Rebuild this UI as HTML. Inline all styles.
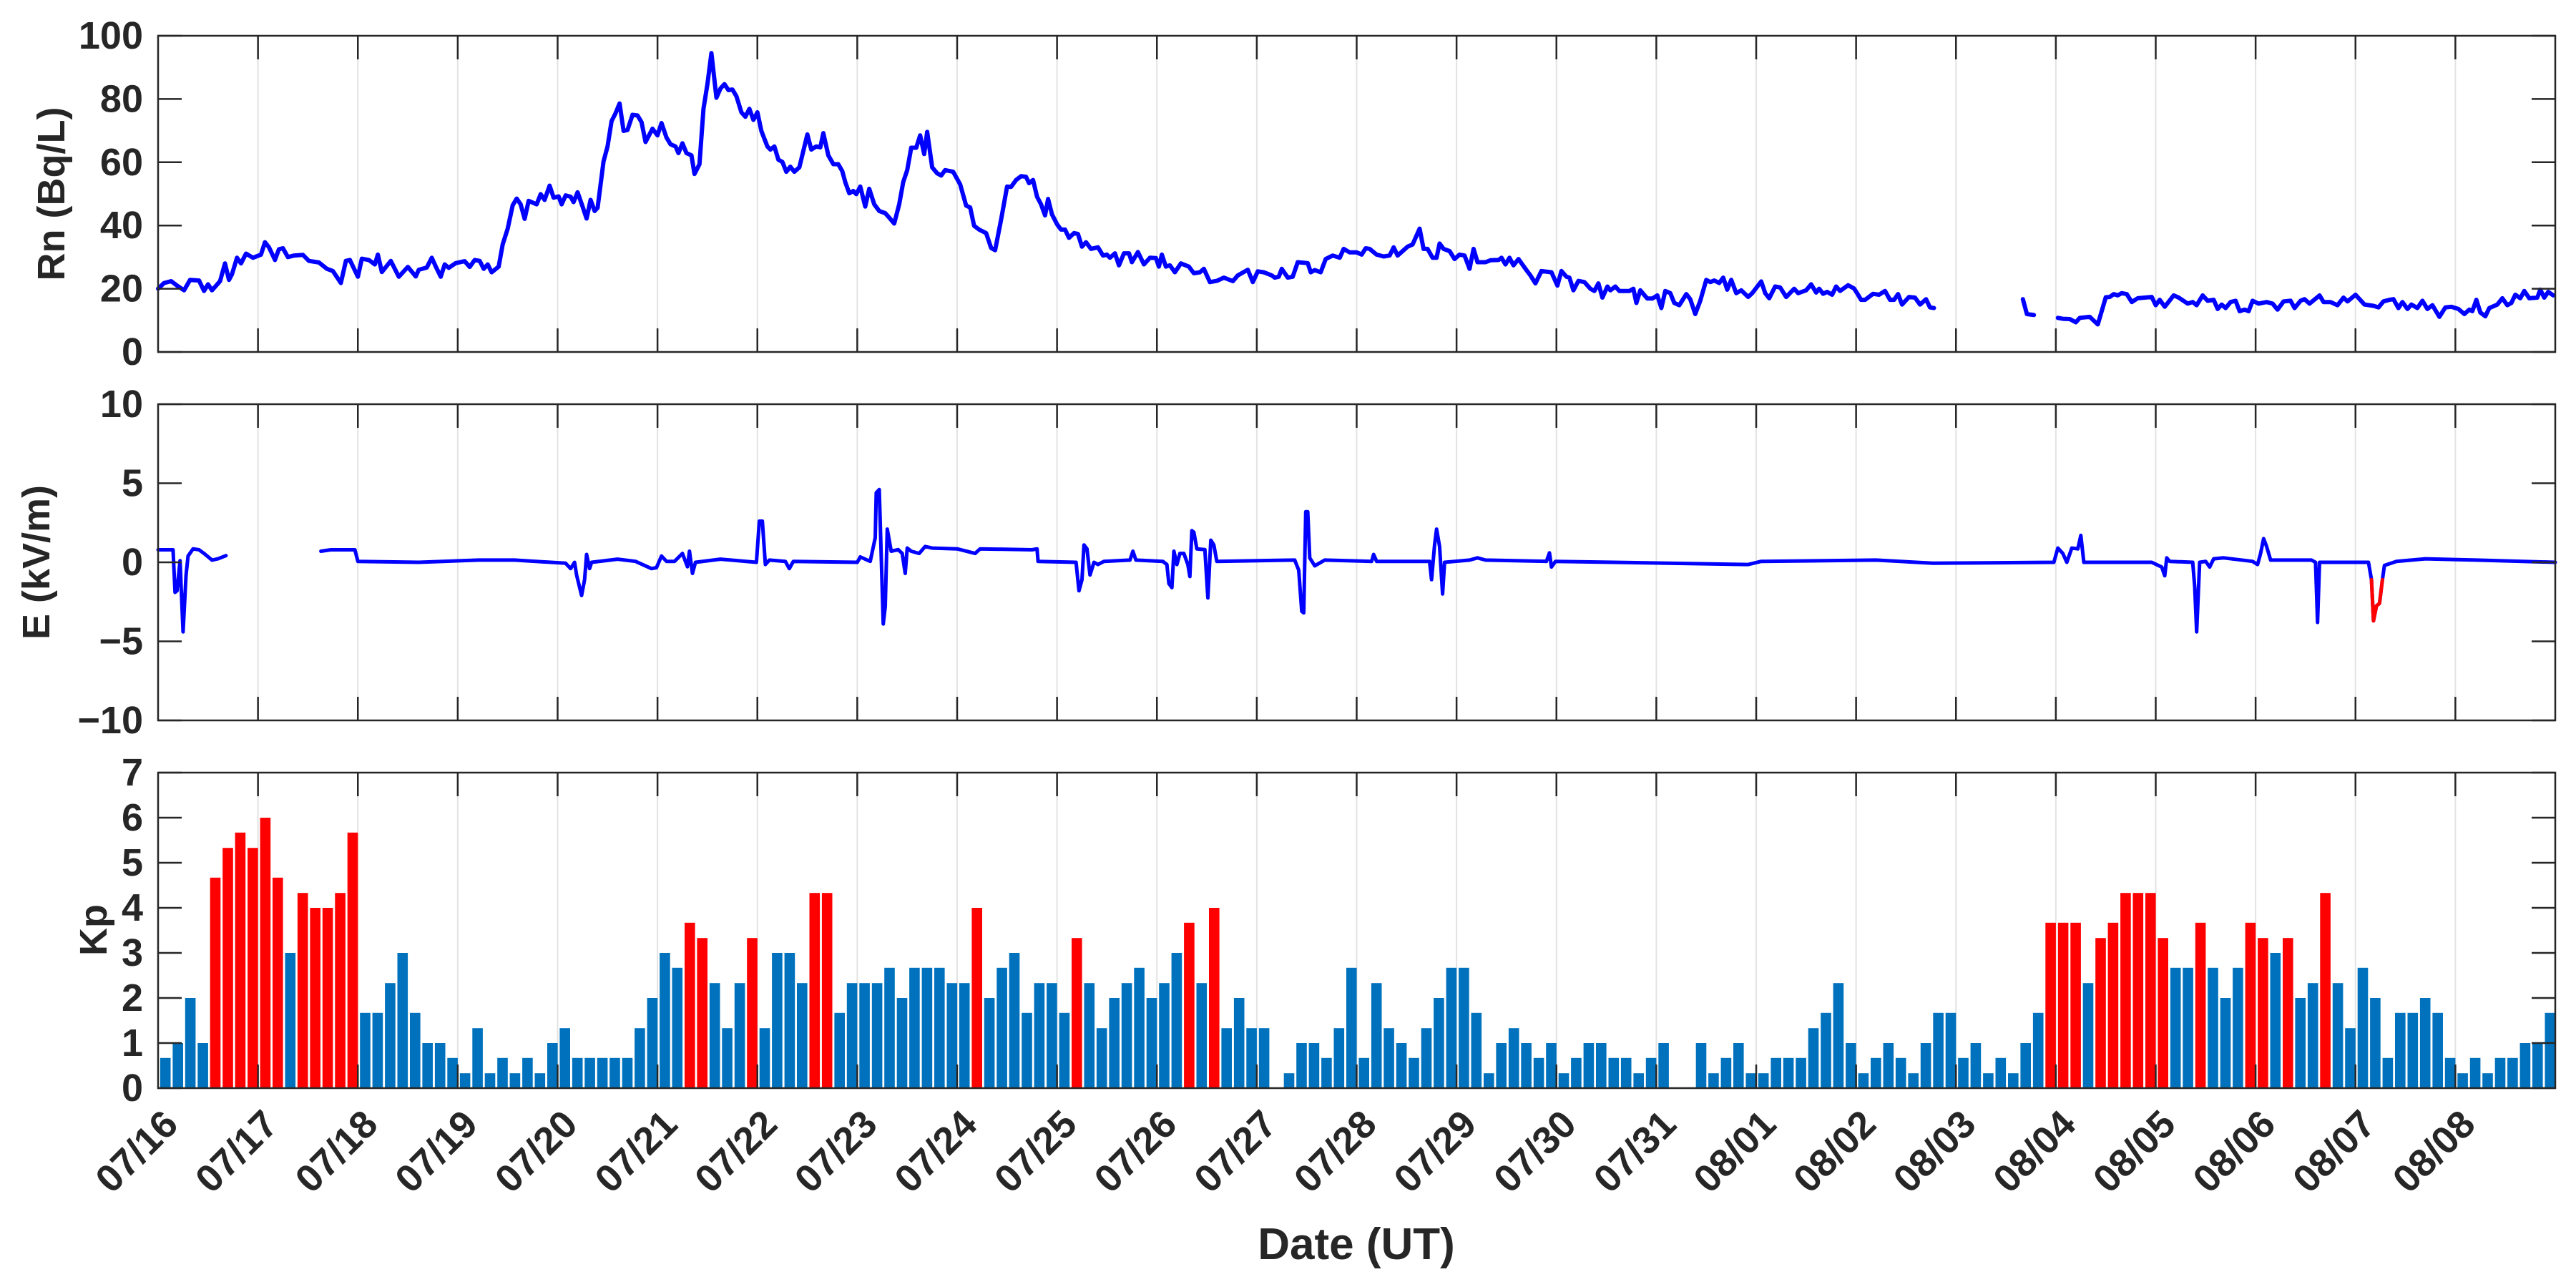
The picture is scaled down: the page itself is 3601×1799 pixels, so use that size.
<!DOCTYPE html>
<html><head><meta charset="utf-8"><style>
html,body{margin:0;padding:0;background:#fff;}
svg{display:block;font-family:"Liberation Sans",Arial,sans-serif;font-weight:bold;}
</style></head><body>
<svg id="chart" width="3601" height="1799" viewBox="0 0 3601 1799" xmlns="http://www.w3.org/2000/svg">
<rect x="0" y="0" width="3601" height="1799" fill="#fff"/>
<g id="grid"></g>
<g id="rnPanel"></g>
<g id="ePanel"></g>
<g id="kpPanel"></g>
<g id="axes"></g>
<text x="72" y="271" transform="rotate(-90 72 271)" text-anchor="middle" dominant-baseline="central" font-size="54" fill="#262626">Rn (Bq/L)</text>
<text x="51" y="786" transform="rotate(-90 51 786)" text-anchor="middle" dominant-baseline="central" font-size="54" fill="#262626">E (kV/m)</text>
<text x="131" y="1300" transform="rotate(-90 131 1300)" text-anchor="middle" dominant-baseline="central" font-size="54" fill="#262626">Kp</text>
<text x="1896" y="1760" text-anchor="middle" font-size="62" fill="#262626">Date (UT)</text>
</svg>
<script>
const dayLabels = ["07/16","07/17","07/18","07/19","07/20","07/21","07/22","07/23","07/24","07/25","07/26","07/27","07/28","07/29","07/30","07/31","08/01","08/02","08/03","08/04","08/05","08/06","08/07","08/08"];
const rnTicks = [0,20,40,60,80,100];
const eTicks = [-10,-5,0,5,10];
const kpTicks = [0,1,2,3,4,5,6,7];
const kpValues = [
0.67,1,2,1,4.67,5.33,5.67,5.33,
6,4.67,3,4.33,4,4,4.33,5.67,
1.67,1.67,2.33,3,1.67,1,1,0.67,
0.33,1.33,0.33,0.67,0.33,0.67,0.33,1,
1.33,0.67,0.67,0.67,0.67,0.67,1.33,2,
3,2.67,3.67,3.33,2.33,1.33,2.33,3.33,
1.33,3,3,2.33,4.33,4.33,1.67,2.33,
2.33,2.33,2.67,2,2.67,2.67,2.67,2.33,
2.33,4,2,2.67,3,1.67,2.33,2.33,
1.67,3.33,2.33,1.33,2,2.33,2.67,2,
2.33,3,3.67,2.33,4,1.33,2,1.33,
1.33,0,0.33,1,1,0.67,1.33,2.67,
0.67,2.33,1.33,1,0.67,1.33,2,2.67,
2.67,1.67,0.33,1,1.33,1,0.67,1,
0.33,0.67,1,1,0.67,0.67,0.33,0.67,
1,0,0,1,0.33,0.67,1,0.33,
0.33,0.67,0.67,0.67,1.33,1.67,2.33,1,
0.33,0.67,1,0.67,0.33,1,1.67,1.67,
0.67,1,0.33,0.67,0.33,1,1.67,3.67,
3.67,3.67,2.33,3.33,3.67,4.33,4.33,4.33,
3.33,2.67,2.67,3.67,2.67,2,2.67,3.67,
3.33,3,3.33,2,2.33,4.33,2.33,1.33,
2.67,2,0.67,1.67,1.67,2,1.67,0.67,
0.33,0.67,0.33,0.67,0.67,1,1,1.67];
const kpAlertThreshold = 3.2;
const rnDay = [0,0.06,0.13,0.19,0.26,0.32,0.41,0.46,0.50,0.54,0.62,0.67,0.71,0.74,0.79,0.83,0.88,0.95,1.03,1.07,1.11,1.17,1.21,1.25,1.30,1.36,1.45,1.51,1.61,1.69,1.75,1.83,1.88,1.92,2.00,2.04,2.11,2.17,2.20,2.24,2.33,2.41,2.50,2.58,2.61,2.69,2.74,2.78,2.83,2.87,2.91,2.98,3.07,3.12,3.17,3.22,3.26,3.30,3.34,3.41,3.45,3.50,3.55,3.59,3.63,3.67,3.71,3.79,3.83,3.87,3.92,3.96,4.01,4.04,4.08,4.13,4.16,4.20,4.25,4.29,4.33,4.37,4.40,4.46,4.50,4.54,4.58,4.62,4.66,4.70,4.75,4.80,4.84,4.88,4.95,5.00,5.04,5.09,5.13,5.18,5.21,5.25,5.29,5.34,5.37,5.42,5.46,5.50,5.54,5.59,5.63,5.67,5.71,5.75,5.79,5.84,5.88,5.92,5.96,6.00,6.04,6.10,6.13,6.17,6.21,6.25,6.29,6.33,6.37,6.42,6.46,6.50,6.54,6.59,6.63,6.66,6.71,6.76,6.81,6.85,6.88,6.92,6.96,6.99,7.03,7.08,7.12,7.17,7.22,7.28,7.33,7.37,7.42,7.46,7.50,7.54,7.59,7.63,7.67,7.70,7.75,7.80,7.84,7.88,7.96,8.03,8.09,8.13,8.17,8.22,8.29,8.34,8.38,8.44,8.50,8.54,8.59,8.64,8.69,8.72,8.76,8.80,8.84,8.88,8.91,8.95,9.00,9.04,9.08,9.12,9.17,9.21,9.25,9.29,9.34,9.41,9.46,9.50,9.53,9.58,9.62,9.67,9.72,9.75,9.81,9.87,9.93,9.99,10.02,10.05,10.09,10.13,10.18,10.24,10.32,10.37,10.43,10.47,10.53,10.60,10.67,10.76,10.81,10.91,10.96,11.01,11.07,11.15,11.18,11.22,11.25,11.31,11.36,11.41,11.51,11.54,11.58,11.64,11.69,11.76,11.83,11.87,11.93,12.00,12.05,12.09,12.13,12.20,12.27,12.33,12.37,12.41,12.46,12.51,12.56,12.63,12.67,12.71,12.76,12.80,12.83,12.87,12.93,12.98,13.03,13.08,13.13,13.17,13.21,13.29,13.34,13.42,13.45,13.49,13.53,13.57,13.62,13.69,13.74,13.79,13.85,13.95,14.01,14.05,14.10,14.13,14.17,14.22,14.28,14.34,14.38,14.42,14.46,14.51,14.54,14.59,14.63,14.73,14.77,14.80,14.84,14.91,14.96,15.01,15.05,15.09,15.14,15.18,15.23,15.30,15.34,15.39,15.44,15.50,15.54,15.58,15.63,15.67,15.71,15.75,15.80,15.85,15.92,15.96,16.05,16.09,16.13,16.19,16.24,16.30,16.38,16.42,16.50,16.55,16.60,16.63,16.67,16.71,16.76,16.80,16.84,16.92,16.98,17.02,17.05,17.09,17.17,17.23,17.29,17.34,17.38,17.42,17.46,17.53,17.59,17.64,17.70,17.74,17.78,18.2,18.67,18.71,18.78,18.9,19.02,19.07,19.14,19.20,19.24,19.34,19.42,19.50,19.54,19.58,19.62,19.66,19.71,19.76,19.82,19.96,20.00,20.04,20.09,20.18,20.23,20.32,20.37,20.41,20.47,20.52,20.58,20.62,20.66,20.70,20.75,20.80,20.84,20.89,20.93,20.97,21.03,21.11,21.17,21.22,21.28,21.35,21.39,21.45,21.49,21.54,21.64,21.68,21.75,21.82,21.88,21.92,22.00,22.09,22.18,22.23,22.28,22.34,22.38,22.43,22.47,22.52,22.56,22.62,22.67,22.72,22.77,22.84,22.90,22.96,23.03,23.09,23.14,23.17,23.21,23.25,23.30,23.34,23.42,23.47,23.52,23.56,23.60,23.65,23.69,23.74,23.82,23.85,23.89,23.93,23.98];
const rnValue = [20.0,21.8,22.4,21.0,19.5,22.8,22.6,19.3,21.4,19.5,22.4,28.0,22.8,24.6,29.8,28.0,31.1,29.8,30.8,34.7,33.1,29.1,32.5,32.8,30.0,30.5,30.7,28.8,28.3,26.3,25.6,21.8,28.8,29.1,23.8,29.5,29.1,27.7,30.8,25.3,28.8,23.8,26.9,23.9,26.0,26.7,29.8,27.0,23.8,27.7,26.6,28.1,28.7,26.9,29.1,28.8,26.3,27.7,25.2,27.0,34.0,39.0,46.4,48.5,46.7,42.1,47.8,46.7,49.9,48.1,52.6,48.8,49.2,46.7,49.5,49.1,47.4,50.5,46.0,42.2,48.1,44.6,45.6,60.3,65.0,73.0,75.5,78.6,69.9,70.2,75.0,74.8,72.7,66.4,70.6,68.5,72.4,67.8,65.7,65.0,62.9,66.0,62.9,62.2,56.3,59.4,76.9,84.7,94.5,80.4,83.3,84.7,82.8,83.0,80.9,75.8,74.4,76.9,73.4,75.8,69.9,65.0,64.0,65.0,60.8,60.1,57.0,58.6,57.0,58.4,63.6,68.8,64.0,65.0,64.7,69.2,62.2,59.4,59.4,57.2,53.7,50.2,50.9,49.9,52.3,46.0,51.6,46.7,44.6,43.9,42.1,40.6,46.7,53.7,57.5,64.6,64.6,68.5,62.6,69.6,58.4,56.5,55.8,57.5,57.0,53.0,46.3,45.7,39.9,38.7,37.6,32.9,32.2,41.8,52.3,52.2,54.4,55.6,55.4,53.4,54.4,49.1,46.7,43.2,48.4,43.5,40.4,38.7,38.7,36.1,37.6,37.3,33.3,34.7,32.6,33.1,30.5,30.8,29.8,31.2,27.4,31.2,31.2,28.4,31.6,27.7,29.8,29.7,27.0,30.8,27.0,27.4,25.2,28.0,27.0,24.9,25.2,26.3,22.1,22.5,23.5,22.4,24.2,26.0,22.1,25.5,25.2,24.2,23.5,23.8,26.3,23.5,23.8,28.4,28.1,25.2,25.9,25.2,29.4,30.5,29.8,32.6,31.5,31.5,30.8,32.8,32.6,30.8,30.2,30.5,33.1,30.5,31.9,33.3,34.0,39.0,32.6,32.6,29.8,29.8,34.3,32.6,31.9,29.4,30.8,30.5,26.3,32.6,28.4,28.4,29.0,29.1,29.8,27.7,29.8,27.4,29.4,26.3,24.2,21.7,25.6,25.2,21.0,25.6,23.8,23.5,19.5,22.5,22.1,20.0,19.3,21.7,17.2,20.7,19.5,20.7,19.3,19.3,20.0,15.5,19.5,16.9,16.9,17.9,13.9,19.3,18.6,15.5,14.8,18.3,16.7,12.0,16.2,22.8,22.1,22.6,21.8,23.5,19.7,22.8,18.6,19.5,17.4,18.6,22.3,18.6,17.0,20.7,20.4,17.4,20.0,18.6,19.5,21.4,18.8,20.0,18.4,19.0,18.1,20.7,19.3,21.1,20.1,18.1,16.5,16.5,18.4,18.1,19.3,16.5,16.5,18.3,15.0,17.4,17.2,15.0,16.7,14.1,13.9,null,16.7,12.0,11.7,null,10.8,10.5,10.4,9.4,10.8,11.1,8.7,17.3,17.4,18.3,17.9,18.6,18.3,15.8,17.0,17.4,14.8,16.5,14.3,17.9,17.2,15.3,15.8,14.8,17.9,16.2,16.5,13.6,15.0,13.9,15.8,16.2,12.9,13.4,12.9,16.2,15.3,15.8,15.3,13.4,16.0,16.2,13.9,16.2,16.7,15.3,17.9,15.8,15.8,14.8,17.2,16.0,18.1,15.0,14.6,14.1,16.0,16.5,16.7,13.9,15.8,13.6,15.0,13.9,16.2,13.6,14.8,11.1,14.1,14.3,13.6,12.0,13.4,12.9,16.5,12.5,11.3,13.9,15.0,17.0,14.8,15.5,18.1,17.0,19.3,17.0,17.2,19.7,17.2,19.0,17.9];
const eDay = [0,0.15,0.17,0.19,0.22,0.25,0.28,0.30,0.35,0.41,0.46,0.54,0.60,0.68,1.0,1.63,1.73,1.89,1.97,2.00,2.61,3.21,3.57,4.08,4.13,4.17,4.19,4.24,4.27,4.29,4.32,4.34,4.60,4.78,4.94,4.99,5.04,5.09,5.17,5.25,5.30,5.32,5.35,5.38,5.63,5.99,6.02,6.05,6.08,6.12,6.28,6.32,6.36,7.0,7.03,7.13,7.18,7.19,7.22,7.26,7.28,7.30,7.34,7.41,7.45,7.48,7.50,7.54,7.62,7.68,7.75,8.00,8.18,8.23,8.75,8.80,8.81,9.19,9.22,9.25,9.27,9.30,9.33,9.37,9.41,9.47,9.73,9.76,9.79,10.06,10.10,10.12,10.15,10.17,10.20,10.23,10.27,10.31,10.33,10.35,10.37,10.40,10.48,10.51,10.54,10.57,10.60,11.38,11.42,11.45,11.47,11.49,11.51,11.53,11.58,11.68,12.15,12.17,12.20,12.73,12.75,12.78,12.80,12.83,12.86,12.88,13.13,13.21,13.29,13.90,13.93,13.95,13.99,15.92,16.05,17.2,17.77,18.98,19.02,19.07,19.11,19.16,19.22,19.25,19.28,19.96,20.06,20.09,20.11,20.14,20.37,20.39,20.41,20.44,20.50,20.54,20.58,20.68,20.97,21.02,21.05,21.08,21.11,21.15,21.56,21.60,21.62,21.64,22.13,22.16,22.18,22.21,22.24,22.27,22.29,22.41,22.70,23.21,24.0];
const eValue = [0.79,0.79,-1.9,-1.8,0.1,-4.4,-0.8,0.4,0.85,0.79,0.56,0.14,0.22,0.42,null,0.7,0.79,0.79,0.79,0.06,0,0.14,0.14,-0.06,-0.4,0,-0.8,-2.1,-1.1,0.5,-0.4,0,0.2,0.06,-0.4,-0.34,0.4,0.06,0.06,0.56,-0.28,0.7,-0.7,0,0.2,0,2.6,2.6,-0.14,0.14,0.06,-0.4,0.06,0,0.34,0.06,1.55,4.4,4.6,-3.9,-2.8,2.1,0.7,0.8,0.56,-0.7,0.9,0.7,0.56,1.0,0.9,0.85,0.56,0.85,0.79,0.85,0.06,0,-1.8,-1.1,1.1,0.85,-0.8,0,-0.14,0.06,0.14,0.7,0.14,0.06,-0.14,-1.35,-1.6,0.7,-0.14,0.56,0.56,-0.14,-0.9,2.0,1.9,0.85,0.8,-2.25,1.4,1.1,0.06,0.14,-0.5,-3.1,-3.2,3.2,3.2,0.28,-0.22,0.14,0.06,0.5,0.06,0.06,-1.1,1.1,2.1,1.0,-2.0,0,0.14,0.28,0.14,0.06,0.6,-0.3,0.06,-0.14,0.06,0.14,-0.06,0,0.9,0.56,0,0.9,0.85,1.7,0,0,-0.3,-0.85,0.28,0.06,0,-1.55,-4.4,0,0.06,-0.3,0.22,0.28,0.06,-0.14,0.56,1.5,1.0,0.14,0.14,0,-3.8,0,0,-1.1,-3.7,-2.75,-2.6,-1.1,-0.2,0.06,0.22,0.14,0];
const eAlertStart = 22.16;
const eAlertEnd = 22.27;

const NS = "http://www.w3.org/2000/svg";
const X0 = 221, X1 = 3572, NDAYS = 24;
const panels = {rn:{top:50,bot:492,min:0,max:100}, e:{top:565,bot:1007,min:-10,max:10}, kp:{top:1080,bot:1521,min:0,max:7}};
function xScale(d){ return X0 + d*(X1-X0)/NDAYS; }
function yScale(p,v){ return p.bot - (v-p.min)*(p.bot-p.top)/(p.max-p.min); }
function mk(tag, attrs, parent){ const el=document.createElementNS(NS,tag); for(const k in attrs) el.setAttribute(k,attrs[k]); parent.appendChild(el); return el; }
const grid=document.getElementById('grid'), axes=document.getElementById('axes');

for(const key of ['rn','e','kp']){
  const p=panels[key];
  for(let d=1; d<NDAYS; d++){
    const g=mk('line',{x1:xScale(d),x2:xScale(d),y1:p.top,y2:p.bot,stroke:'#e3e3e3','stroke-width':2},grid);
    
    
  }
}

function polyPaths(days, vals, p, filterFn){
  const segs=[]; let cur=[];
  for(let i=0;i<days.length;i++){
    if(vals[i]===null || (filterFn && !filterFn(days[i]))){ if(cur.length) segs.push(cur); cur=[]; continue; }
    cur.push(xScale(days[i]).toFixed(1)+','+yScale(p,vals[i]).toFixed(1));
  }
  if(cur.length) segs.push(cur);
  return segs.map(s=>'M'+s.join('L')).join(' ');
}
const rnG=document.getElementById('rnPanel');
const rnLine=mk('path',{d:polyPaths(rnDay,rnValue,panels.rn),fill:'none',stroke:'#0000ff','stroke-width':6,'stroke-linejoin':'round','stroke-linecap':'round'},rnG);



const eG=document.getElementById('ePanel');
const eLine=mk('path',{d:polyPaths(eDay,eValue,panels.e),fill:'none',stroke:'#0000ff','stroke-width':5,'stroke-linejoin':'round','stroke-linecap':'round'},eG);


const eRed=mk('path',{d:polyPaths(eDay,eValue,panels.e,d=>d>=eAlertStart&&d<=eAlertEnd),fill:'none',stroke:'#ff0000','stroke-width':5,'stroke-linejoin':'round','stroke-linecap':'round'},eG);



const kpG=document.getElementById('kpPanel');
kpValues.forEach((v,i)=>{
  if(v<=0) return;
  const cx=xScale((i+0.5)/8)+1.5, y=yScale(panels.kp,v);
  const r=mk('rect',{x:(cx-7.3).toFixed(1),y:y.toFixed(1),width:14.6,height:(panels.kp.bot-y).toFixed(1),fill:v>kpAlertThreshold?'#ff0000':'#0072bd'},kpG);
  
  
});

function yAxis(key, ticks, fmt){
  const p=panels[key];
  const box=mk('rect',{x:X0,y:p.top,width:X1-X0,height:p.bot-p.top,fill:'none',stroke:'#262626','stroke-width':2.5},axes);
  
  
  ticks.forEach(t=>{
    const y=yScale(p,t);
    const tl=mk('path',{d:`M${X0},${y}h33M${X1},${y}h-33`,stroke:'#262626','stroke-width':2.5},axes);
    
    
    const tx=mk('text',{x:200,y:y,'text-anchor':'end','dominant-baseline':'central','font-size':54,fill:'#262626'},axes);
    tx.textContent=fmt(t);
    
    
  });
  for(let d=1; d<NDAYS; d++){
    const x=xScale(d);
    const xt=mk('path',{d:`M${x},${p.top}v33M${x},${p.bot}v-33`,stroke:'#262626','stroke-width':2.5},axes);
    
    
  }
}
yAxis('rn',rnTicks,t=>String(t));
yAxis('e',eTicks,t=>t<0?'\u2212'+Math.abs(t):String(t));
yAxis('kp',kpTicks,t=>String(t));

dayLabels.forEach((lab,d)=>{
  const x=xScale(d)+18, y=1562;
  const t=mk('text',{x:x,y:y,'text-anchor':'end','dominant-baseline':'central','font-size':54,fill:'#262626',transform:`rotate(-45 ${x} ${y})`},axes);
  t.textContent=lab;
  
  
});
</script>
</body></html>
